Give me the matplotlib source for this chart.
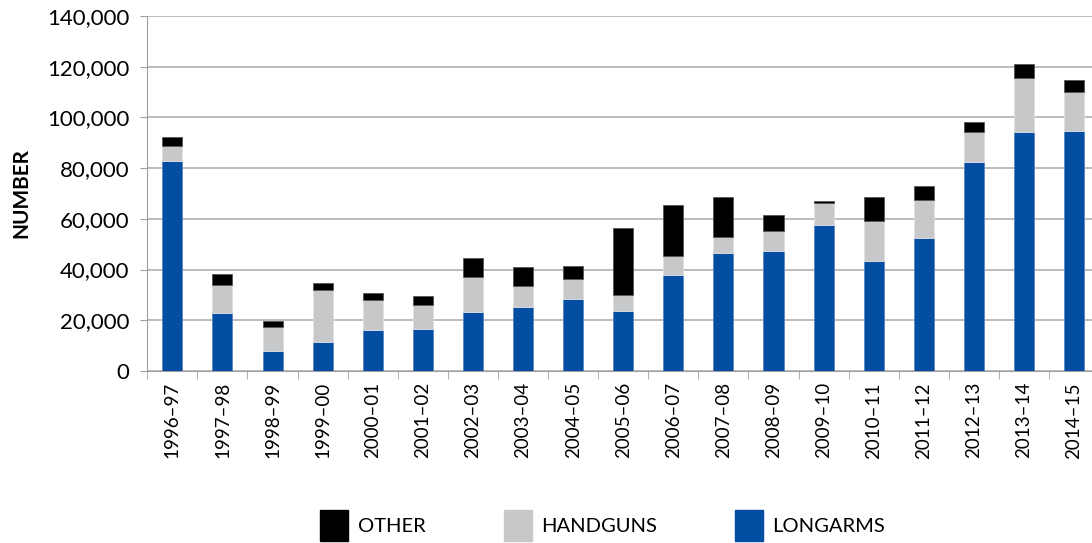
import matplotlib.pyplot as plt
from matplotlib.patches import Patch
import numpy as np

# Jahreswerte
years = ["1996–97", "1997–98", "1998–99", "1999–00", "2000–01", "2001–02",
         "2002–03", "2003–04", "2004–05", "2005–06", "2006–07", "2007–08",
         "2008–09", "2009–10", "2010–11", "2011–12", "2012–13", "2013–14",
         "2014–15"]
longarms = [82900, 23000, 7800, 11600, 16200, 16700, 23400, 25400, 28300,
            23700, 37800, 46400, 47200, 57600, 43400, 52600, 82500, 94200, 94700]
handguns = [5800, 11100, 9700, 20500, 11600, 9400, 13800, 8300, 8000,
            6400, 7700, 6400, 8100, 8700, 15800, 14900, 11700, 21500, 15200]
other = [3700, 4100, 2200, 2600, 3000, 3500, 7500, 7200, 5300,
         26200, 20000, 15900, 6100, 700, 9500, 5300, 4100, 5500, 5000]

plt.rcParams['font.family'] = ['Lato', 'DejaVu Sans']

blue = "#034ea2"
grey = "#c7c8ca"
black = "#000000"

fig = plt.figure(figsize=(10.92, 5.43), dpi=100)
ax = fig.add_axes([0.1349, 0.3168, 0.8716, 0.6537])

x = np.arange(len(years))
w = 0.4
ax.bar(x, longarms, w, color=blue, edgecolor="#5a86c0", linewidth=0.6, zorder=3)
ax.bar(x, handguns, w, bottom=longarms, color=grey, edgecolor="#e0e0e0",
       linewidth=0.6, zorder=3)
bot2 = np.array(longarms) + np.array(handguns)
ax.bar(x, other, w, bottom=bot2, color=black, edgecolor="#555555",
       linewidth=0.6, zorder=3)

ax.set_xlim(-0.5, len(years) - 0.5)
ax.set_ylim(0, 140000)
ax.set_yticks(range(0, 140001, 20000))
ax.set_yticklabels([f"{v:,}" for v in range(0, 140001, 20000)], fontsize=16)
ax.set_xticks(x)
ax.set_xticklabels(years, rotation=90, fontsize=13.5)
ax.set_xticks(np.arange(-0.5, len(years), 1), minor=True)
ax.tick_params(axis='x', which='major', length=0, pad=8)
ax.tick_params(axis='x', which='minor', length=6, color="#a0a0a0")
ax.tick_params(axis='y', length=5, color="#a0a0a0", pad=8)

ax.yaxis.grid(True, color="#b0b0b0", linewidth=1.2, zorder=0)
for s in ["top", "right"]:
    ax.spines[s].set_visible(False)
ax.spines["left"].set_color("#a0a0a0")
ax.spines["bottom"].set_color("#a0a0a0")
ax.set_ylabel("NUMBER", fontsize=15, fontweight="bold")
ax.yaxis.set_label_coords(-0.122, 0.5)

handles = [Patch(color=black), Patch(color=grey), Patch(color=blue)]
fig.legend(handles, ["OTHER", "HANDGUNS", "LONGARMS"], loc="lower center",
           bbox_to_anchor=(0.552, -0.03), ncol=3, frameon=False, fontsize=14.5,
           handlelength=1.39, handleheight=2.0, columnspacing=3.9,
           handletextpad=0.45)

fig.savefig("out.png", dpi=100)
